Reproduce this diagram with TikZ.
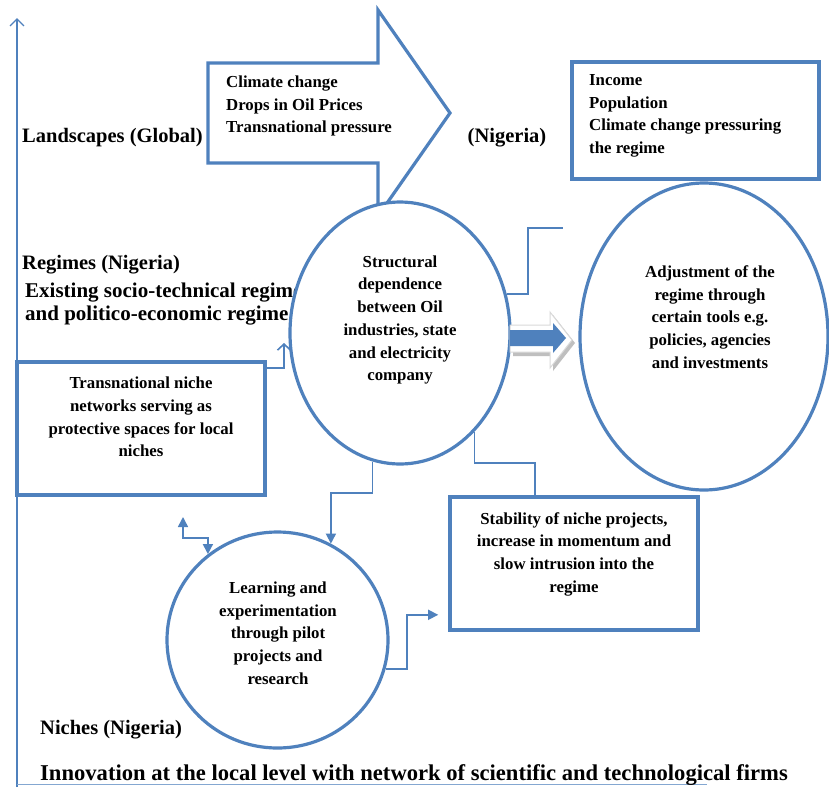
\documentclass[tikz,border=0pt]{standalone}
\usepackage{fontspec}
\setmainfont{Liberation Serif}
\usetikzlibrary{arrows.meta,shapes.geometric,calc}
\definecolor{ob}{HTML}{4F81BD}
\newcommand{\nfont}{\fontsize{16.8}{22.7}\selectfont\bfseries}
\newcommand{\lfont}{\fontsize{20.5}{23}\selectfont\bfseries}
\begin{document}
\begin{tikzpicture}[x=1pt,y=-1pt,
  shapeline/.style={draw=ob, line width=3.2pt, fill=white},
  boxline/.style={draw=ob, line width=3.6pt, fill=white, inner sep=0pt},
  conn/.style={draw=ob, line width=1.6pt},
  tipf/.style={-{Triangle[length=10pt,width=10pt]}},
  txt/.style={font=\nfont, align=center, inner sep=0pt},
  ltxt/.style={font=\nfont, align=left, inner sep=0pt, anchor=west},
  lbl/.style={font=\lfont, anchor=west, inner sep=0pt}]
\useasboundingbox (0,0) rectangle (829,787);
\fill[white] (0,0) rectangle (829,787);

% axis
\coordinate (axb) at (17,787);
\coordinate (axt) at (17,18);
\coordinate (axr) at (707,784);
\draw[ob, line width=1.4pt, -{Straight Barb[length=7pt,width=14pt,line width=1.4pt]}] (axb) -- (axt);
\draw[ob!70, line width=1pt] (axb |- axr) -- (axr);

% landscape arrow
\draw[ob, line width=3.2pt, fill=white, line join=miter]
  (208,63) -- (378,63) -- (378,10) -- (450,113) -- (378,216) -- (378,163) -- (208,163) -- cycle;
\node[ltxt] (t7) at (226,106) {Climate change\\Drops in Oil Prices\\Transnational pressure};

% labels
\node[lbl] (land) at (22,138) {Landscapes (Global)};
\node[font=\lfont, inner sep=0pt] (nig) at (507,138) {(Nigeria)};
\node[lbl] (reg) at (22,265) {Regimes (Nigeria)};
\node[lbl, align=left, font=\fontsize{21}{23}\selectfont\bfseries] (exist) at (25,304) {Existing socio-technical regime\\and politico-economic regime};
\node[lbl] (nich) at (40,730) {Niches (Nigeria)};
\node[lbl, font=\fontsize{22.6}{24}\selectfont\bfseries] (innov) at (40,775) {Innovation at the local level with network of scientific and technological firms};

% top right box
\node[boxline, minimum width=247pt, minimum height=117pt] (tr) at (695.5,120.5) {};
\node[ltxt] (t6) at (589,116) {Income\\Population\\Climate change pressuring\\the regime};

% ellipses
\node[ellipse, shapeline, minimum width=220pt, minimum height=262pt, inner sep=0pt] (e1) at (400,333) {};
\node[txt] (t1) at (400,320) {Structural\\dependence\\between Oil\\industries, state\\and electricity\\company};

\node[ellipse, shapeline, minimum width=248pt, minimum height=307pt, inner sep=0pt] (e2) at (704,336.5) {};
\node[txt] (t2) at (710,317) {Adjustment of the\\regime through\\certain tools e.g.\\policies, agencies\\and investments};

\node[ellipse, shapeline, minimum width=221pt, minimum height=216pt, inner sep=0pt] (e3) at (277.5,640) {};
\node[txt] (t3) at (278,633) {Learning and\\experimentation\\through pilot\\projects and\\research};

% boxes
\node[boxline, minimum width=248pt, minimum height=133pt] (lb) at (141,428.5) {};
\node[txt] (t4) at (141,417) {Transnational niche\\networks serving as\\protective spaces for local\\niches};

\node[boxline, minimum width=248pt, minimum height=133pt] (sb) at (574,563.5) {};
\node[txt] (t5) at (574,554) {Stability of niche projects,\\increase in momentum and\\slow intrusion into the\\regime};

% fat arrow between e1 and e2
\fill[gray!50] (513,328) -- (553,328) -- (553,315) -- (575,343) -- (553,371) -- (553,356) -- (513,356) -- cycle;
\draw[gray!30, line width=1pt, fill=white] (510,325) -- (550,325) -- (550,312) -- (572,340) -- (550,368) -- (550,352) -- (510,352) -- cycle;
\fill[ob] (510,330) -- (553,330) -- (553,323) -- (566,338) -- (553,353) -- (553,346) -- (510,346) -- cycle;

% connectors
\coordinate (fe1) at (563,228);
\draw[conn] (e1.20) -- (e1.20 -| 528,0) |- (fe1);

\coordinate (tipA) at (284,343);
\draw[conn, -{Straight Barb[length=6pt,width=13pt,line width=1.6pt]}] ([yshift=-8pt]lb.north east) -| (tipA);

\draw[conn, tipf] (e1.258) -- (e1.258 |- 0,493) -| (e3.61);

\draw[conn] (e1.307) -- (e1.307 |- 0,463) -| ([xshift=-39pt]sb.north);

\coordinate (tl) at (183,517);
\draw[conn, {Triangle[length=10pt,width=10pt]}-{Triangle[length=10pt,width=10pt]}] (tl) |- ($(e3.129)+(0,-16)$) -- (e3.129);

\draw[conn, tipf] (e3.-15) -- (e3.-15 -| 407,0) |- ([xshift=-10pt,yshift=17pt]sb.south west);
\end{tikzpicture}
\end{document}
